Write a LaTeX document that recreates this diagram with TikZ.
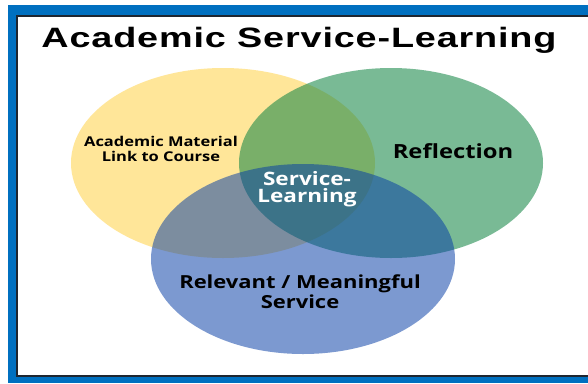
\documentclass[tikz,border=0pt]{standalone}
\usepackage{fontspec}
\setmainfont[FakeStretch=1.22]{Open Sans}
\newfontfamily\titlefont[FakeStretch=1.35, LetterSpace=3]{Liberation Sans}
\usetikzlibrary{shapes.geometric}

\definecolor{frameblue}{RGB}{0,112,192}
\definecolor{framedark}{RGB}{30,38,48}
\definecolor{acadyellow}{RGB}{255,230,153}
\definecolor{reflgreen}{RGB}{20,134,70}
\definecolor{servblue}{RGB}{5,60,165}

\begin{document}
\begin{tikzpicture}[x=1pt, y=-1pt,
    venn/.style={ellipse, minimum width=304pt, minimum height=190pt, inner sep=0pt},
    lbl/.style={align=center, font=\bfseries\fontsize{13.5}{15}\selectfont}]
  % frame
  \useasboundingbox (0,0) rectangle (588,383);
  \fill[white] (0,0) rectangle (588,383);
  \fill[frameblue] (8,5) rectangle (588,383);
  \filldraw[fill=white, draw=framedark, line width=1.8pt] (17,16) rectangle (600,376);
  % title
  \node[font=\titlefont\bfseries\fontsize{28}{30}\selectfont] (title) at (299,40) {Academic Service-Learning};
  % three circles
  \node[venn, fill=acadyellow] (academic) at (223,163) {};
  \node[venn, fill=reflgreen, fill opacity=0.57] (reflection) at (391,163) {};
  \node[venn, fill=servblue, fill opacity=0.52] (service) at (303,259) {};
  % labels
  \node[lbl] (acadtext) at (161,149) {Academic Material\\Link to Course};
  \node[lbl, font=\bfseries\fontsize{19.5}{20}\selectfont] (refltext) at (453,151) {Reflection};
  \node[lbl, font=\bfseries\fontsize{18}{20}\selectfont] (servtext) at (300,292) {Relevant / Meaningful\\Service};
  \node[lbl, text=white, font=\bfseries\fontsize{18.5}{17}\selectfont] (core) at (307,189) {Service-\\Learning};
\end{tikzpicture}
\end{document}
